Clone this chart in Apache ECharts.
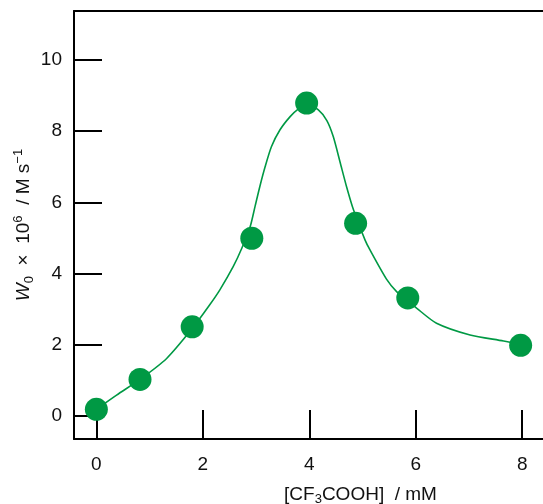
<!DOCTYPE html>
<html>
<head>
<meta charset="utf-8">
<script src="https://cdn.jsdelivr.net/npm/echarts@6/dist/echarts.min.js"></script>
<style>html,body{margin:0;padding:0;background:#fff}#c{width:543px;height:504px}</style>
</head>
<body>
<div id="c"></div>
<script>
// Measured points: [CF3COOH] (mM) and W0 x 10^6 (M s^-1)
var pointX = [0.0, 0.82, 1.80, 2.92, 3.95, 4.87, 5.85, 7.97];
var pointY = [0.18, 1.02, 2.50, 4.99, 8.79, 5.41, 3.31, 1.98];
// Fitted curve
var curveX = [0.00, 0.38, 0.82, 1.32, 1.80, 2.13, 2.32, 2.57, 2.73, 2.89, 2.98, 3.07, 3.17, 3.29, 3.45, 3.64, 3.79, 3.95, 4.17, 4.33, 4.45, 4.58, 4.70, 4.83, 5.05, 5.14, 5.45, 5.64, 5.85, 6.02, 6.39, 7.02, 7.65, 7.97];
var curveY = [0.18, 0.58, 1.02, 1.61, 2.45, 3.12, 3.54, 4.19, 4.70, 5.32, 5.88, 6.44, 7.00, 7.57, 8.04, 8.41, 8.62, 8.76, 8.60, 8.30, 7.85, 7.12, 6.44, 5.79, 4.93, 4.66, 3.84, 3.49, 3.24, 3.02, 2.60, 2.27, 2.10, 2.00];
var xTicks = [0, 2, 4, 6, 8];
var yTicks = [0, 2, 4, 6, 8, 10];

var green = '#009944';
var ink = '#111';
var font = 'Liberation Sans, Arial, Helvetica, sans-serif';
var fs = 19;
var chart = echarts.init(document.getElementById('c'));
var pts = pointX.map(function (x, i) { return [x, pointY[i]]; });
var crv = curveX.map(function (x, i) { return [x, curveY[i]]; });

chart.setOption({
  animation: false,
  grid: { left: 74, top: 11, right: 0, bottom: 65, containLabel: false, outerBoundsMode: 'none' },
  xAxis: [{
    type: 'value', min: -0.42, max: 8.39,
    splitLine: { show: false },
    axisLine: { show: true, onZero: false, lineStyle: { color: '#000', width: 2 } },
    axisTick: { show: true, inside: true, length: 29, customValues: xTicks, lineStyle: { color: '#000', width: 2 } },
    axisLabel: { customValues: xTicks, margin: 16, fontSize: fs, color: ink, fontFamily: font },
    name: '[CF{sub|3}COOH]  / mM',
    nameLocation: 'middle', nameGap: 45, nameMoveOverlap: false,
    nameTextStyle: {
      fontSize: fs, color: ink, fontFamily: font, padding: [0, 0, 0, 104], lineHeight: 22,
      rich: { sub: { fontSize: 13, lineHeight: 13, verticalAlign: 'bottom', color: ink, fontFamily: font } }
    }
  }, {
    type: 'value', position: 'top', min: -0.42, max: 8.39,
    splitLine: { show: false }, axisTick: { show: false }, axisLabel: { show: false },
    axisLine: { show: true, onZero: false, lineStyle: { color: '#000', width: 2 } }
  }],
  yAxis: {
    type: 'value', min: -0.655, max: 11.38,
    splitLine: { show: false },
    axisLine: { show: true, onZero: false, lineStyle: { color: '#000', width: 2 } },
    axisTick: { show: true, inside: true, length: 28, customValues: yTicks, lineStyle: { color: '#000', width: 2 } },
    axisLabel: { customValues: yTicks, margin: 12, fontSize: fs, color: ink, fontFamily: font },
    name: '{i|W}{sub|0}{t|  ×  10}{sup|6}{t|  / M s}{sup|−1}',
    nameLocation: 'middle', nameGap: 38, nameRotate: 90, nameMoveOverlap: false,
    nameTextStyle: {
      fontSize: fs, color: ink, fontFamily: font, lineHeight: 24,
      rich: {
        t: { fontSize: fs, color: ink, fontFamily: font, lineHeight: 24 },
        i: { fontStyle: 'italic', fontSize: fs, color: ink, fontFamily: font, lineHeight: 24 },
        sub: { fontSize: 13, lineHeight: 13, verticalAlign: 'bottom', color: ink, fontFamily: font },
        sup: { fontSize: 13, lineHeight: 13, verticalAlign: 'top', color: ink, fontFamily: font }
      }
    }
  },
  series: [{
    type: 'line', data: crv, smooth: 0.25, showSymbol: false, symbol: 'none',
    lineStyle: { color: green, width: 1.6 }, z: 2
  }, {
    type: 'scatter', data: pts, symbol: 'circle', symbolSize: 23,
    itemStyle: { color: green, opacity: 1 }, z: 3
  }]
});
</script>
</body>
</html>
